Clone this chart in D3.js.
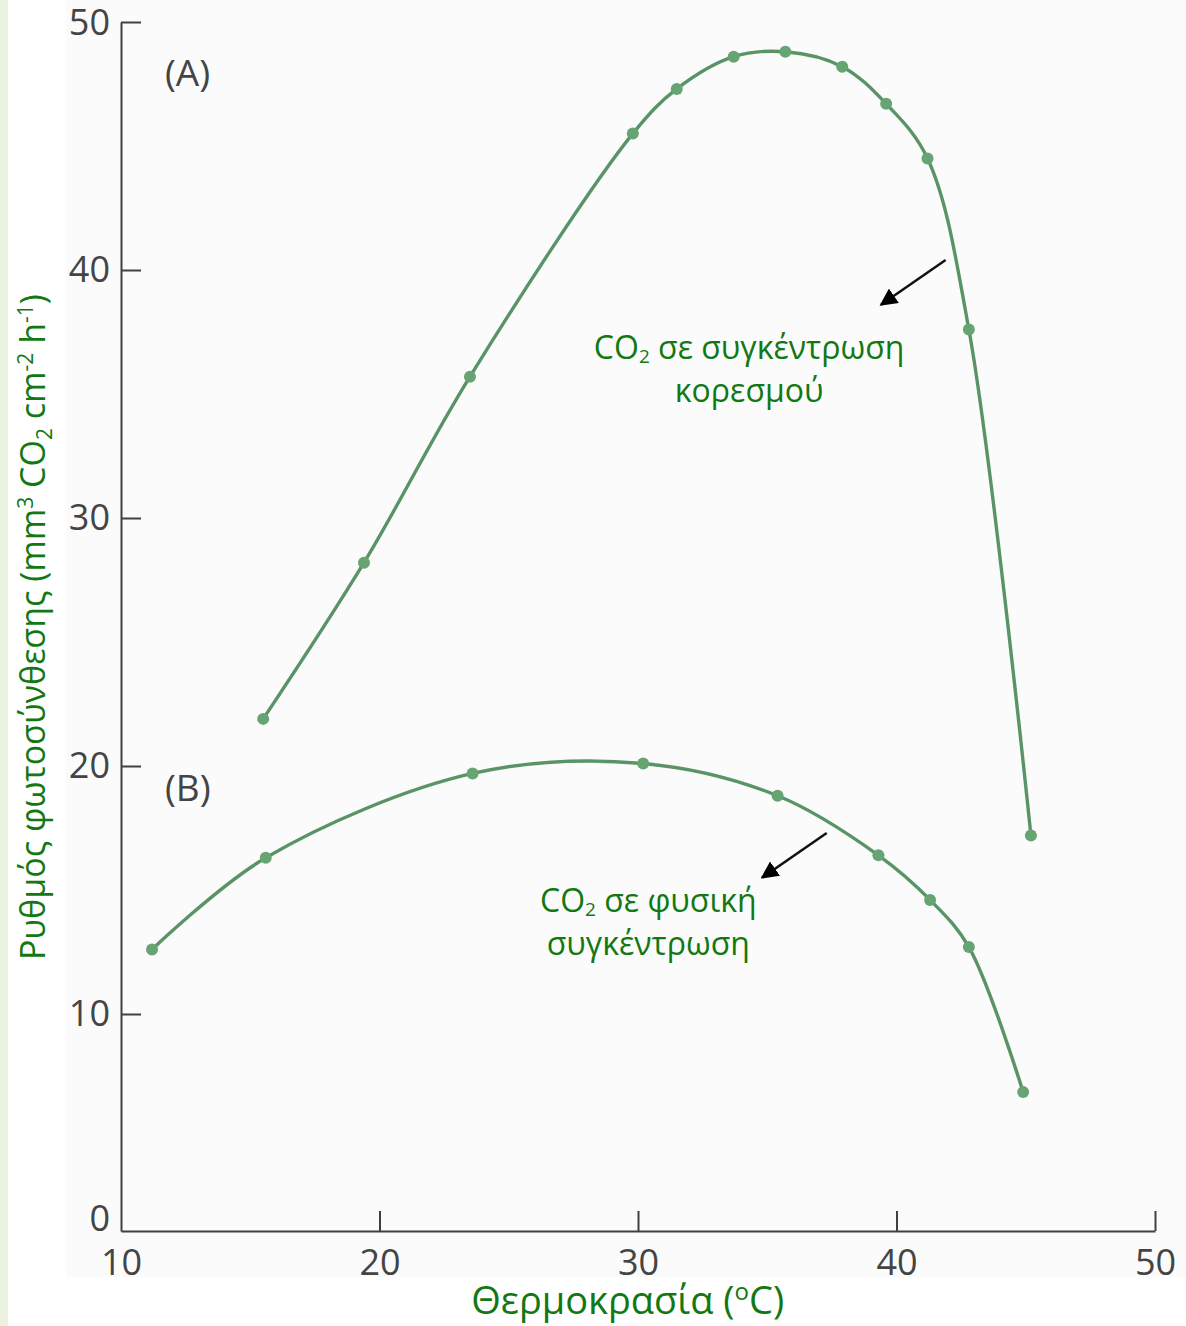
<!DOCTYPE html>
<html>
<head>
<meta charset="utf-8">
<script src="https://cdn.jsdelivr.net/npm/d3@7"></script>
<style>
  html, body { margin: 0; padding: 0; background: #ffffff; }
  svg { display: block; }
</style>
</head>
<body>
<svg id="chart" width="1186" height="1326"></svg>
<script>
// ---- data ----
const tempA = [15.5, 19.4, 23.5, 29.8, 31.5, 33.7, 35.7, 37.9, 39.6, 41.2, 42.8, 45.2];
const rateA = [21.9, 28.2, 35.7, 45.5, 47.3, 48.6, 48.8, 48.2, 46.7, 44.5, 37.6, 17.2];
const tempB = [11.2, 15.6, 23.6, 30.2, 35.4, 39.3, 41.3, 42.8, 44.9];
const rateB = [12.6, 16.3, 19.7, 20.1, 18.8, 16.4, 14.6, 12.7, 6.4];
const xTicks = [10, 20, 30, 40, 50];
const yTicks = [0, 10, 20, 30, 40, 50];
const labelA = "(A)";
const labelB = "(B)";
const noteA = ["σε συγκέντρωση", "κορεσμού"];
const noteB = ["σε φυσική", "συγκέντρωση"];

const svg = d3.select("#chart");
const W = 1186, H = 1326;
const green = "#127812";
const axisCol = "#404040";
const font = "'Open Sans', 'Noto Sans', sans-serif";

// background strips (scan look)
svg.append("rect").attr("x", 0).attr("y", 0).attr("width", W).attr("height", H).attr("fill", "#ffffff");
svg.append("rect").attr("x", 0).attr("y", 0).attr("width", 8).attr("height", H).attr("fill", "#ebf2df");
svg.append("rect").attr("x", 66).attr("y", 0).attr("width", W - 66).attr("height", 1277).attr("fill", "#fbfbfb");

// scales
const x = d3.scaleLinear().domain([10, 50]).range([121, 1155]);
// the original figure's axis is slightly compressed between 0 and 10
const y = d3.scaleLinear().domain([0, 10, 50]).range([1231, 1014, 22]);

// axes
const gx = svg.append("g").attr("transform", `translate(0,${y(0)})`)
  .call(d3.axisBottom(x).tickValues(xTicks).tickSizeInner(-20).tickSizeOuter(0).tickPadding(18));
const gy = svg.append("g").attr("transform", `translate(${x(10)},0)`)
  .call(d3.axisLeft(y).tickValues(yTicks).tickSizeInner(-20).tickSizeOuter(0).tickPadding(11));
[gx, gy].forEach(g => {
  g.select(".domain").attr("stroke", axisCol).attr("stroke-width", 2);
  g.selectAll(".tick line").attr("stroke", axisCol).attr("stroke-width", 2);
  g.selectAll(".tick text").attr("fill", "#444").attr("font-family", font).attr("font-size", 36);
});
gy.selectAll(".tick").filter(d => d === 0).select("text").attr("dy", "-0.02em");
gy.selectAll(".tick").filter(d => d === 50).select("text").attr("dy", "0.36em");
gy.selectAll(".tick").filter(d => d === 0).select("line").remove();
gx.selectAll(".tick").filter(d => d === 10).select("line").remove();

// curves
const line = d3.line().curve(d3.curveCatmullRom.alpha(0.5)).x(d => x(d[0])).y(d => y(d[1]));
const seriesA = tempA.map((t, i) => [t, rateA[i]]);
const seriesB = tempB.map((t, i) => [t, rateB[i]]);
[seriesA, seriesB].forEach(s => {
  svg.append("path").datum(s).attr("d", line)
    .attr("fill", "none").attr("stroke", "#5a9466").attr("stroke-width", 3.4);
  svg.append("g").selectAll("circle").data(s).join("circle")
    .attr("cx", d => x(d[0])).attr("cy", d => y(d[1])).attr("r", 6)
    .attr("fill", "#66a474");
});

// panel labels
svg.append("text").attr("x", x(11.7)).attr("y", y(47.4)).text(labelA)
  .attr("font-family", font).attr("font-size", 37).attr("fill", "#444");
svg.append("text").attr("x", x(11.7)).attr("y", y(18.6)).text(labelB)
  .attr("font-family", font).attr("font-size", 37).attr("fill", "#444");

// arrows
const defs = svg.append("defs");
defs.append("marker").attr("id", "ah").attr("viewBox", "0 0 10 10").attr("refX", 9).attr("refY", 5)
  .attr("markerWidth", 7).attr("markerHeight", 7).attr("orient", "auto-start-reverse")
  .append("path").attr("d", "M0,0 L10,5 L0,10 z").attr("fill", "#000");
function arrow(t1, v1, t2, v2) {
  svg.append("line").attr("x1", x(t1)).attr("y1", y(v1)).attr("x2", x(t2)).attr("y2", y(v2))
    .attr("stroke", "#111").attr("stroke-width", 2.5).attr("marker-end", "url(#ah)");
}
arrow(41.9, 40.4, 39.4, 38.6);
arrow(37.3, 17.3, 34.8, 15.5);

// annotations
function note(cx, v, lines) {
  const t = svg.append("text").attr("x", cx).attr("y", y(v)).attr("text-anchor", "middle")
    .attr("font-family", font).attr("font-size", 32).attr("fill", green);
  t.append("tspan").text("CO");
  t.append("tspan").attr("font-size", 19).attr("dy", 4).text("2");
  t.append("tspan").attr("dy", -4).text(" " + lines[0]);
  svg.append("text").attr("x", cx).attr("y", y(v) + 43).attr("text-anchor", "middle")
    .attr("font-family", font).attr("font-size", 32).attr("fill", green).text(lines[1]);
}
note(x(34.3), 36.4, noteA);
note(x(30.4), 14.1, noteB);

// axis titles
const xt = svg.append("text").attr("x", x(29.6)).attr("y", 1314).attr("text-anchor", "middle")
  .attr("font-family", font).attr("font-size", 38).attr("fill", green);
xt.append("tspan").text("Θερμοκρασία (");
xt.append("tspan").attr("font-size", 24).attr("dy", -14).text("o");
xt.append("tspan").attr("dy", 14).text("C)");

const yt = svg.append("text").attr("transform", `translate(45,${y(25.6)}) rotate(-90)`)
  .attr("text-anchor", "middle").attr("font-family", font).attr("font-size", 34).attr("fill", green);
yt.append("tspan").text("Ρυθμός φωτοσύνθεσης (mm");
yt.append("tspan").attr("font-size", 21).attr("dy", -12).text("3");
yt.append("tspan").attr("dy", 12).text(" CO");
yt.append("tspan").attr("font-size", 21).attr("dy", 7).text("2");
yt.append("tspan").attr("dy", -7).text(" cm");
yt.append("tspan").attr("font-size", 21).attr("dy", -12).text("-2");
yt.append("tspan").attr("dy", 12).text(" h");
yt.append("tspan").attr("font-size", 21).attr("dy", -12).text("-1");
yt.append("tspan").attr("dy", 12).text(")");
</script>
</body>
</html>
